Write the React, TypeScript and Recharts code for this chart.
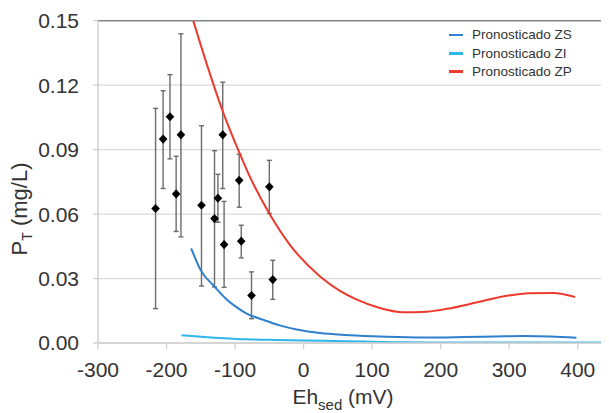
import React from 'react';
import {
  ComposedChart,
  Line,
  Scatter,
  XAxis,
  YAxis,
  CartesianGrid,
  ErrorBar,
  ReferenceLine,
  Legend,
  Label,
} from 'recharts';

// ---------- data ----------
const xTicks = [-300, -200, -100, 0, 100, 200, 300, 400];
const yTicks = [0, 0.03, 0.06, 0.09, 0.12, 0.15];

// observed points (Eh in mV, PT in mg/L) with error bar bounds
const obsEh = [-216, -205, -195, -186, -179, -149, -130, -125, -118, -116, -94, -91, -76, -50, -45];
const obsP = [0.0626, 0.0949, 0.1053, 0.0694, 0.0969, 0.0641, 0.0579, 0.0674, 0.0969, 0.0458, 0.0757, 0.0474, 0.0221, 0.0727, 0.0295];
const obsLow = [0.0160, 0.0719, 0.0857, 0.0519, 0.0494, 0.0265, 0.0261, 0.0562, 0.0719, 0.0259, 0.0632, 0.0396, 0.0113, 0.0603, 0.0203];
const obsHigh = [0.1092, 0.1174, 0.1249, 0.0869, 0.1439, 0.1011, 0.0895, 0.0785, 0.1214, 0.0659, 0.0878, 0.0548, 0.0331, 0.0850, 0.0385];

// Pronosticado ZS
const zsEh = [-164, -150, -131, -113, -98, -83, -59, -35, -10, 24, 60, 101, 165, 200, 233, 280, 320, 360, 398];
const zsP = [0.0440, 0.0338, 0.0266, 0.0205, 0.0167, 0.0137, 0.0108, 0.0082, 0.0063, 0.0046, 0.0037, 0.0031, 0.0026, 0.0026, 0.0028, 0.0030, 0.0032, 0.0030, 0.0025];

// Pronosticado ZI
const ziEh = [-178, -130, -83, -40, 0, 60, 100, 150, 250, 350, 446];
const ziP = [0.0036, 0.0025, 0.0017, 0.0014, 0.0012, 0.0008, 0.0006, 0.0003, 0.0002, 0.0002, 0.0002];

// Pronosticado ZP
const zpEh = [-161, -140, -117, -93, -79, -50, -20, 24, 53, 77, 110, 145, 180, 209, 250, 282, 330, 364, 396];
const zpP = [0.150, 0.1285, 0.107, 0.0880, 0.0778, 0.0603, 0.0457, 0.0310, 0.0243, 0.0203, 0.0164, 0.0143, 0.0146, 0.0159, 0.0187, 0.0211, 0.0232, 0.0233, 0.0214];

const seriesNames = ['Pronosticado ZS', 'Pronosticado ZI', 'Pronosticado ZP'];
const seriesColors = ['#2e80cc', '#30b5ec', '#ee3a2e'];

// ---------- derived tables ----------
const obsData = obsEh.map((x, i) => ({
  x,
  y: obsP[i],
  err: [obsP[i] - obsLow[i], obsHigh[i] - obsP[i]],
}));
const toLine = (xs: number[], ys: number[]) => xs.map((x, i) => ({ x, y: ys[i] }));
const zsData = toLine(zsEh, zsP);
const ziData = toLine(ziEh, ziP);
const zpData = toLine(zpEh, zpP);

const FONT = '"Liberation Sans", Arial, sans-serif';

const Diamond = (props: any) => {
  const { cx, cy } = props;
  if (cx == null || cy == null) return null;
  const rx = 4.3;
  const ry = 4.6;
  return (
    <polygon
      points={`${cx},${cy - ry} ${cx + rx},${cy} ${cx},${cy + ry} ${cx - rx},${cy}`}
      fill="#000"
    />
  );
};

const LegendContent = () => (
  <div style={{ fontFamily: FONT, fontSize: 13.5, color: '#333' }}>
    {seriesNames.map((n, i) => (
      <div key={n} style={{ display: 'flex', alignItems: 'center', height: 18.33 }}>
        <div style={{ width: 14, height: 2.5, background: seriesColors[i], marginRight: 9 }} />
        <span style={{ whiteSpace: 'nowrap' }}>{n}</span>
      </div>
    ))}
  </div>
);

const YTitle = () => (
  <text
    x={18.5}
    y={201}
    transform="rotate(-90 18.5 201)"
    textAnchor="middle"
    fontFamily={FONT}
    fontSize={22}
    fill="#333"
  >
    <tspan>P</tspan>
    <tspan fontSize={14} dy={5}>T</tspan>
    <tspan dy={-5}> (mg/L)</tspan>
  </text>
);

const XTitle = () => (
  <text x={335} y={396} textAnchor="middle" fontFamily={FONT} fontSize={21} fill="#333">
    <tspan>Eh</tspan>
    <tspan fontSize={15} dy={6}>sed</tspan>
    <tspan dy={-6}> (mV)</tspan>
  </text>
);

export default function App() {
  return (
    <ComposedChart
      width={601}
      height={405}
      margin={{ top: 12.7, right: 0, bottom: 0, left: 0 }}
      style={{ fontFamily: FONT }}
    >
      <CartesianGrid vertical={false} stroke="#d9d9d9" strokeWidth={1.3} />
      <XAxis
        type="number"
        dataKey="x"
        domain={[-300, 445.6]}
        allowDataOverflow
        ticks={xTicks}
        interval={0}
        height={70}
        tickSize={6}
        tickMargin={13}
        tick={{ fontSize: 21, fill: '#333', fontFamily: FONT }}
        axisLine={{ stroke: '#d0d0d0', strokeWidth: 1.5 }}
        tickLine={{ stroke: '#d0d0d0', strokeWidth: 1.3 }}
      >
        <Label content={<XTitle />} />
      </XAxis>
      <YAxis
        type="number"
        domain={[0, 0.15]}
        allowDataOverflow
        ticks={yTicks}
        interval={0}
        width={90}
        tickSize={5}
        tickMargin={14}
        tickFormatter={(v: number) => v.toFixed(2)}
        tick={{ fontSize: 21, fill: '#333', fontFamily: FONT }}
        axisLine={{ stroke: '#d0d0d0', strokeWidth: 1.5 }}
        tickLine={{ stroke: '#d0d0d0', strokeWidth: 1.3 }}
      >
        <Label content={<YTitle />} />
      </YAxis>
      <ReferenceLine y={0.15} stroke="#858585" strokeWidth={1.5} />
      <Legend
        layout="vertical"
        align="center"
        verticalAlign="middle"
        content={<LegendContent />}
        wrapperStyle={{ top: 17.8, left: 441, width: 'auto' }}
      />
      <Scatter
        name="Observado"
        data={obsData}
        dataKey="y"
        shape={<Diamond />}
        isAnimationActive={false}
        legendType="none"
      >
        <ErrorBar dataKey="err" direction="y" width={2.5} stroke="#6b6b6b" strokeWidth={1.4} />
      </Scatter>
      <Line
        name={seriesNames[0]}
        data={zsData}
        dataKey="y"
        type="monotone"
        stroke={seriesColors[0]}
        strokeWidth={2}
        dot={false}
        isAnimationActive={false}
      />
      <Line
        name={seriesNames[1]}
        data={ziData}
        dataKey="y"
        type="monotone"
        stroke={seriesColors[1]}
        strokeWidth={2}
        dot={false}
        isAnimationActive={false}
      />
      <Line
        name={seriesNames[2]}
        data={zpData}
        dataKey="y"
        type="monotone"
        stroke={seriesColors[2]}
        strokeWidth={2}
        dot={false}
        isAnimationActive={false}
      />
    </ComposedChart>
  );
}
